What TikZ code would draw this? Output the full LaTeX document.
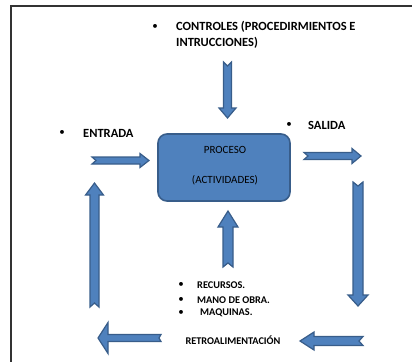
\documentclass[tikz,border=0pt]{standalone}
\usepackage{fontspec}
\setmainfont{Carlito}
\usepackage{tikz}
\definecolor{arrowblue}{HTML}{4F81BD}
\definecolor{edgeblue}{HTML}{385D8A}
\tikzset{
         arrowfill/.style={fill=arrowblue,draw=edgeblue,line width=1.2pt},
         procbox/.style={rectangle,rounded corners=9pt,fill=arrowblue,draw=edgeblue,line width=1.6pt},
         biglbl/.style={font=\fontsize{12.5}{16}\selectfont\bfseries,inner sep=0pt,anchor=west,align=left},
         smalllbl/.style={font=\fontsize{10.3}{12}\selectfont\bfseries,inner sep=0pt,anchor=west},
         boxlbl/.style={font=\fontsize{11}{12}\selectfont,inner sep=0pt},
         dot/.style={font=\fontsize{11}{12}\selectfont,inner sep=0pt},
         %length, shaft half width, head half width, head length, notch
         pics/blockarrow/.style n args={5}{code={
           \draw[arrowfill](0,#2)--({#1-#4},#2)--({#1-#4},#3)--(#1,0)--({#1-#4},-#3)
             --({#1-#4},-#2)--(0,-#2)--(#5,0)--cycle;
         }}
        }
\begin{document}
\begin{tikzpicture}[x=1pt,y=-1pt]
\useasboundingbox(0,0)rectangle(412,362);
%frame
\draw[line width=1.2pt,black!80](412,6)--(11,6)--(11,362);
%process box
\node[procbox,minimum width=132pt,minimum height=67pt](proceso)at(224,167.5){};
\node[boxlbl](proc1)at(225,150){PROCESO};
\node[boxlbl](proc2)at(225,180){(ACTIVIDADES)};
%arrows
\pic[rotate=-90](ctrl)at(227.5,62){blockarrow={56}{4}{8.5}{10}{4}};
\pic(ent)at(92,160.5){blockarrow={57}{3.5}{7}{9}{4}};
\pic(sal)at(304,156){blockarrow={57}{3.5}{7.5}{9}{4}};
\pic[rotate=-90](der)at(358,182){blockarrow={124}{5}{10}{11}{4}};
\pic[rotate=180](retro1)at(363,341){blockarrow={63}{4.5}{9}{14}{4}};
\pic[rotate=180](retro2)at(161,338){blockarrow={63}{3.5}{15.5}{10}{2}};
\pic[rotate=90](izq)at(94.5,307){blockarrow={124}{4.5}{9}{12}{4}};
\pic[rotate=90](rec)at(228,267){blockarrow={56}{5}{10}{16}{4}};
%labels and such
\node[dot](b1)at(155,27){•};
\node[biglbl](controles)at(176,35){CONTROLES (PROCEDIRMIENTOS E\\INTRUCCIONES)};
\node[dot](b2)at(62,133){•};
\node[biglbl](entrada)at(83,133){ENTRADA};
\node[dot](b3)at(289,125){•};
\node[biglbl](salida)at(308,125){SALIDA};
\node[dot](b4)at(181,285){•};
\node[dot](b5)at(181,300){•};
\node[dot](b6)at(181,313){•};
\node[smalllbl](recursos)at(197,285){RECURSOS.};
\node[smalllbl](mano)at(197,300){MANO DE OBRA.};
\node[smalllbl](maquinas)at(200,313){MAQUINAS.};
\node[smalllbl,anchor=center](retroalim)at(233,340){RETROALIMENTACIÓN};
\end{tikzpicture}
\end{document}
